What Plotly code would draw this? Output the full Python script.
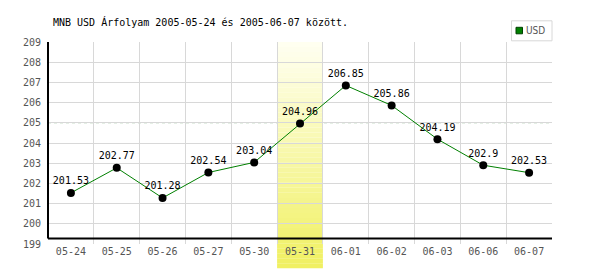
import plotly.graph_objects as go

categories = ["05-24", "05-25", "05-26", "05-27", "05-30", "05-31",
              "06-01", "06-02", "06-03", "06-06", "06-07"]
usd_values = [201.53, 202.77, 201.28, 202.54, 203.04, 204.96,
              206.85, 205.86, 204.19, 202.9, 202.53]
value_labels = ["201.53", "202.77", "201.28", "202.54", "203.04", "204.96",
                "206.85", "205.86", "204.19", "202.9", "202.53"]
y_ticks = list(range(199, 210))
highlight_category = "05-31"
reference_level = 205
title_text = "MNB USD Árfolyam 2005-05-24 és 2005-06-07 között."
series_name = "USD"

W, H = 600, 270
ML, MR, MT, MB = 48, 48, 41.7, 26.3
plot_h = H - MT - MB
FONT = "DejaVu Sans Mono"

fig = go.Figure()
fig.add_trace(go.Scatter(
    x=categories, y=usd_values, mode="lines+markers+text",
    text=value_labels, textposition="top center",
    textfont=dict(family=FONT, size=10, color="#000000"),
    line=dict(color="#008000", width=1),
    marker=dict(color="#000000", size=8),
    name=series_name, showlegend=False, cliponaxis=False,
))

shapes = []
# reference dashed line
shapes.append(dict(type="line", xref="paper", yref="y", x0=0, x1=1,
                   y0=reference_level, y1=reference_level, layer="between",
                   line=dict(color="#a8c8a8", width=1, dash="3px,3px")))
# highlight band with vertical gradient
hi = categories.index(highlight_category)
top_py, bot_py = MT, 268
n = 45
c_top = (255, 255, 242)
c_bot = (240, 240, 96)
for i in range(n):
    p0 = top_py + (bot_py - top_py) * i / n
    p1 = top_py + (bot_py - top_py) * (i + 1) / n
    t = (i + 0.5) / n
    col = tuple(round(c_top[k] + (c_bot[k] - c_top[k]) * t) for k in range(3))
    shapes.append(dict(type="rect", xref="x", yref="paper",
                       x0=hi - 0.5, x1=hi + 0.5,
                       y0=(H - MB - p1) / plot_h, y1=(H - MB - p0) / plot_h,
                       fillcolor="rgb(%d,%d,%d)" % col, line=dict(width=0),
                       layer="between"))
# black axis lines
axis_py = 238.3
axis_y = (H - MB - axis_py) / plot_h
shapes.append(dict(type="line", xref="paper", yref="paper", x0=0, x1=1,
                   y0=axis_y, y1=axis_y, line=dict(color="#000000", width=2),
                   layer="above"))
shapes.append(dict(type="line", xref="paper", yref="paper", x0=0, x1=0,
                   y0=axis_y, y1=1, line=dict(color="#000000", width=2),
                   layer="above"))
# legend box
pw = W - ML - MR
def px2x(px):
    return (px - ML) / pw
def py2y(py):
    return (H - MB - py) / plot_h
shapes.append(dict(type="rect", xref="paper", yref="paper",
                   x0=px2x(511.5), x1=px2x(552), y0=py2y(40.5), y1=py2y(20.5),
                   line=dict(color="#d8d8d8", width=1), fillcolor="white",
                   layer="above"))
shapes.append(dict(type="rect", xref="paper", yref="paper",
                   x0=px2x(516), x1=px2x(522.5), y0=py2y(33.5), y1=py2y(27),
                   line=dict(color="#004000", width=1), fillcolor="#008000",
                   layer="above"))

annotations = [dict(text=series_name, xref="paper", yref="paper",
                    x=px2x(524), y=py2y(30.5), xanchor="left", yanchor="middle",
                    showarrow=False,
                    font=dict(family="DejaVu Sans Condensed", size=10, color="#555555"))]

fig.update_layout(
    width=W, height=H,
    margin=dict(l=ML, r=MR, t=MT, b=MB, pad=0),
    paper_bgcolor="white", plot_bgcolor="white",
    title=dict(text=title_text, x=53 / W, xref="container", xanchor="left",
               y=1 - 22 / H, yref="container", yanchor="middle",
               font=dict(family=FONT, size=10, color="#000000")),
    showlegend=False,
    shapes=shapes, annotations=annotations,
    font=dict(family=FONT, size=10, color="#555555"),
)
fig.update_xaxes(
    type="category", range=[-0.5, len(categories) - 0.5],
    tickson="boundaries", showgrid=True, gridcolor="#d8d8d8", gridwidth=1,
    showline=False, zeroline=False, ticks="", ticklabelstandoff=0,
    tickfont=dict(family=FONT, size=10, color="#555555"),
    mirror=False,
)
fig.update_yaxes(
    range=[199, 209], tickvals=y_ticks, ticktext=[str(v) for v in y_ticks],
    showgrid=True, gridcolor="#d8d8d8", gridwidth=1,
    showline=False, zeroline=False, ticks="", ticklabelstandoff=6,
    tickfont=dict(family=FONT, size=10, color="#555555"),
)
fig.write_html("out.html")
